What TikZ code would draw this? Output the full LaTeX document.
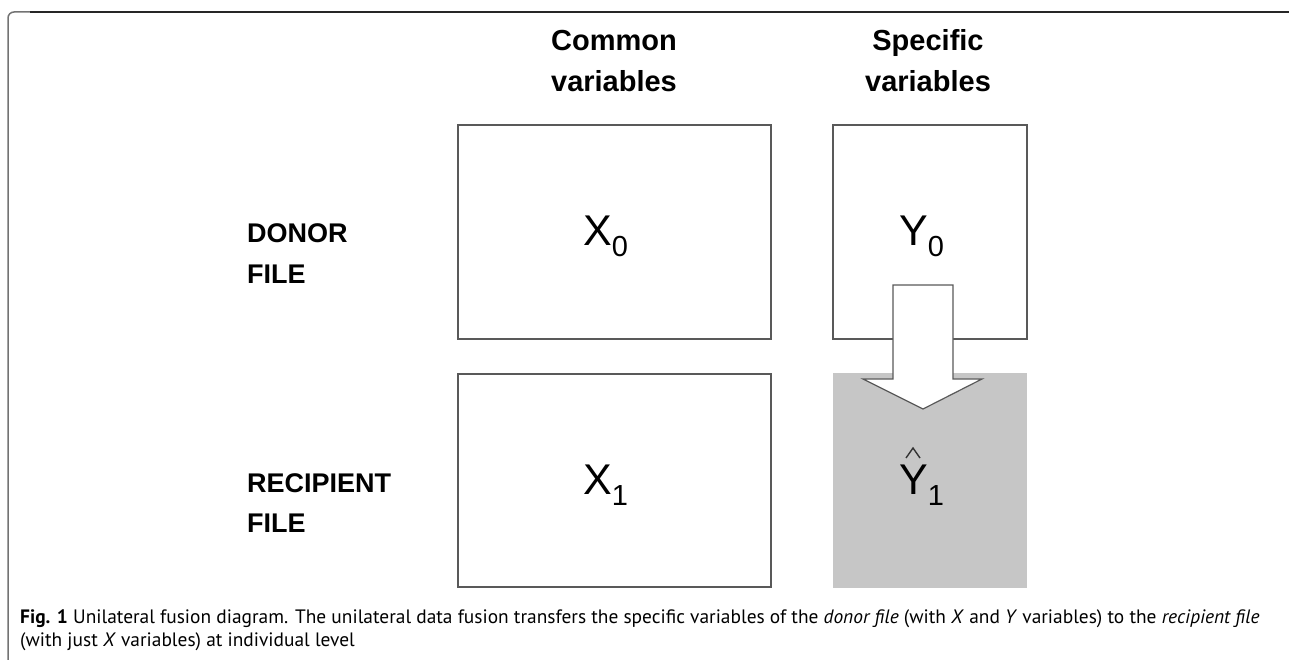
\documentclass[tikz,border=0pt]{standalone}
\usepackage{fontspec}
\setmainfont{Liberation Sans}
\newfontfamily\capfont{PT Sans}
\begin{document}
\begin{tikzpicture}[x=1pt,y=-1pt,
  frameline/.style={line width=1.5pt},
  databox/.style={draw=black!65,line width=1.5pt},
  head/.style={font=\fontsize{29}{37}\selectfont\bfseries,align=center,anchor=base,inner sep=0pt},
  side/.style={font=\fontsize{27}{40}\selectfont\bfseries,align=left,anchor=base west,inner sep=0pt},
  var/.style={font=\fontsize{43}{43}\selectfont,anchor=base west,inner sep=0pt},
  fusearrow/.style={draw=black!65,fill=white,line width=1.2pt,line join=miter}
]
\useasboundingbox (0,0) rectangle (1291,660);
% frame
\draw[draw=black!55,frameline,rounded corners=6pt] (8,660) -- (8,12) -- (40,12);
\draw[draw=black!85,frameline] (30,12) -- (1289,12);
% boxes
\draw[databox] (458,125) rectangle (771,339);
\draw[databox] (833,125) rectangle (1027,339);
\draw[databox] (458,374) rectangle (771,587);
\fill[fill=gray!45!white] (833,373) rectangle (1027,588);
% arrow
\draw[fusearrow] (893,285) -- (953,285) -- (953,379) -- (982,379) -- (923,409) -- (863,379) -- (893,379) -- cycle;
% headings
\node[head] (hc) at (614,51) {Common};
\node[head] (hc2) at (614,92) {variables};
\node[head] (hs) at (928,51) {Specific};
\node[head] (hs2) at (928,92) {variables};
% side labels
\node[side] (d1) at (247,243) {DONOR};
\node[side] (d2) at (247,284) {FILE};
\node[side] (r1) at (247,492) {RECIPIENT};
\node[side] (r2) at (247,532) {FILE};
% variables
\node[var] (x0) at (583,246) {X\raisebox{-11pt}{\fontsize{29}{29}\selectfont 0}};
\node[var] (y0) at (899,246) {Y\raisebox{-11pt}{\fontsize{29}{29}\selectfont 0}};
\node[var] (x1) at (583,494) {X\raisebox{-11pt}{\fontsize{29}{29}\selectfont 1}};
\node[var] (y1) at (899,494) {Y\raisebox{-11pt}{\fontsize{29}{29}\selectfont 1}};
% hat over Y1
\draw[line width=1.4pt,black!80] (906,458) -- (913,448) -- (920,458);
% caption
\node[font=\capfont\fontsize{19.4}{23}\selectfont,anchor=base west,inner sep=0pt,align=left] (cap) at (20,646)
 {\textbf{Fig. 1} Unilateral fusion diagram. The unilateral data fusion transfers the specific variables of the \textit{donor file} (with \textit{X} and \textit{Y} variables) to the \textit{recipient file}\\(with just \textit{X} variables) at individual level};
\end{tikzpicture}
\end{document}
